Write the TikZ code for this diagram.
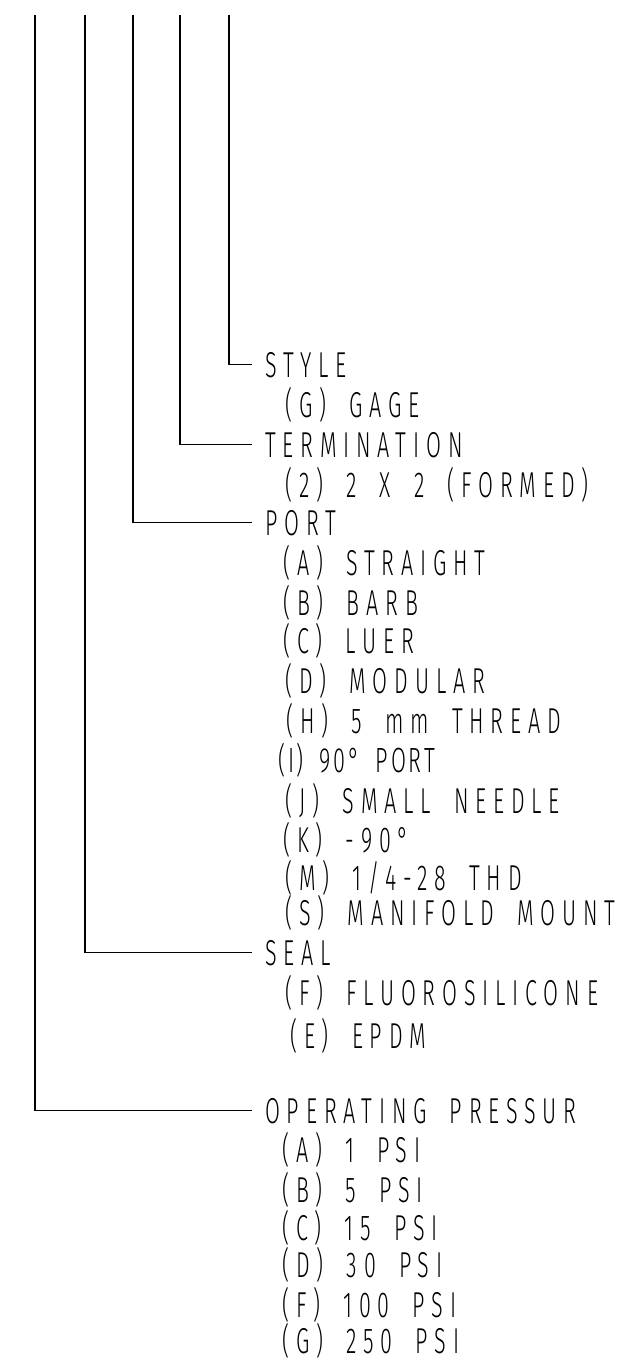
\documentclass[tikz,border=0pt]{standalone}
\usepackage{fontspec}
\newfontfamily\cadfont{Fira Sans Light}[FakeStretch=0.6,LetterSpace=19,WordSpace=1.8]
\newfontfamily\cadnarrow{Fira Sans Light}[FakeStretch=0.62,LetterSpace=8,WordSpace=1.8]

\begin{document}
\begin{tikzpicture}[x=1pt,y=-1pt,
    lbl/.style={anchor=base west, inner sep=0pt, font=\cadfont\fontsize{36}{38}\selectfont},
    lblnarrow/.style={anchor=base west, inner sep=0pt, font=\cadnarrow\fontsize{35}{37}\selectfont},
    lead/.style={line width=1.6pt}]
    \useasboundingbox (0,0) rectangle (621,1365);

    % headings
    \node[lbl] (style) at (265,377) {STYLE};
    \node[lbl] (term) at (265,457) {TERMINATION};
    \node[lbl] (port) at (265,535) {PORT};
    \node[lbl] (seal) at (265,965) {SEAL};
    \node[lbl] (press) at (265,1123) {OPERATING PRESSUR};

    % options
    \node[lbl] (styleG) at (285,417) {(G) GAGE};
    \node[lbl] (term2) at (285,497) {(2) 2 X 2 (FORMED)};
    \node[lbl] (portA) at (283,575) {(A) STRAIGHT};
    \node[lbl] (portB) at (283,615) {(B) BARB};
    \node[lbl] (portC) at (283,653) {(C) LUER};
    \node[lbl] (portD) at (285,693) {(D) MODULAR};
    \node[lbl] (portH) at (286,733) {(H) 5 mm THREAD};
    \node[lblnarrow] (portI) at (278,772) {(I) 90° PORT};
    \node[lbl] (portJ) at (285,813) {(J) SMALL NEEDLE};
    \node[lbl] (portK) at (283,852) {(K) -90°};
    \node[lbl] (portM) at (285,890) {(M) 1/4-28 THD};
    \node[lbl] (portS) at (285,925) {(S) MANIFOLD MOUNT};
    \node[lbl] (sealF) at (285,1005) {(F) FLUOROSILICONE};
    \node[lbl] (sealE) at (290,1048) {(E) EPDM};
    \node[lbl] (pressA) at (282,1162) {(A) 1 PSI};
    \node[lbl] (pressB) at (282,1202) {(B) 5 PSI};
    \node[lbl] (pressC) at (282,1240) {(C) 15 PSI};
    \node[lbl] (pressD) at (282,1277) {(D) 30 PSI};
    \node[lbl] (pressF) at (282,1317) {(F) 100 PSI};
    \node[lbl] (pressG) at (282,1353) {(G) 250 PSI};

    % leader tops
    \coordinate (topP) at (35,15);
    \coordinate (topS) at (85,15);
    \coordinate (topO) at (133,15);
    \coordinate (topT) at (180,15);
    \coordinate (topY) at (229,15);

    \draw[lead](topY)|-([xshift=-13pt]style.west);
    \draw[lead](topT)|-([xshift=-13pt]term.west);
    \draw[lead](topO)|-([xshift=-13pt]port.west);
    \draw[lead](topS)|-([xshift=-13pt]seal.west);
    \draw[lead](topP)|-([xshift=-13pt]press.west);
\end{tikzpicture}
\end{document}
